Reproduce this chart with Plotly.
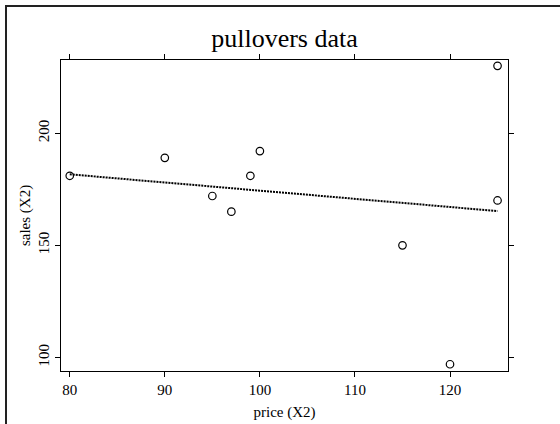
import numpy as np
import plotly.graph_objects as go

# pullovers data
price = [125, 99, 97, 115, 120, 100, 80, 90, 95, 125]
sales = [230, 181, 165, 150, 97, 192, 181, 189, 172, 170]
x_ticks = [80, 90, 100, 110, 120]
y_ticks = [100, 150, 200]

# least-squares line of sales on price
slope, intercept = np.polyfit(price, sales, 1)
fit_x = [min(price), max(price)]
fit_y = [intercept + slope * v for v in fit_x]

FONT = "Liberation Serif"

fig = go.Figure()
fig.add_trace(go.Scatter(
    x=fit_x, y=fit_y, mode="lines",
    line=dict(color="black", width=2, dash="2px,1px"),
    showlegend=False, hoverinfo="skip"))
fig.add_trace(go.Scatter(
    x=price, y=sales, mode="markers",
    marker=dict(symbol="circle-open", size=7.5, color="black", line=dict(width=1.2)),
    showlegend=False))

W, H = 560, 424
ml, mr, mt, mb = 61, 52, 60, 53
pw, ph = W - ml - mr, H - mt - mb
fx = lambda px: (px - ml) / pw
fy = lambda py: (H - mb - py) / ph

fig.update_layout(
    width=W, height=H, autosize=False,
    margin=dict(l=ml, r=mr, t=mt, b=mb, pad=0, autoexpand=False),
    paper_bgcolor="white", plot_bgcolor="white",
    font=dict(family=FONT, color="black", size=15),
    title=dict(text="pullovers data", x=0.5, xref="paper", xanchor="center",
               y=1 - 38 / H, yref="container", yanchor="middle", automargin=False,
               font=dict(family=FONT, size=26, color="black")),
    xaxis=dict(range=[79.08, 126.1], tickvals=x_ticks, ticks="outside", ticklen=5,
               tickcolor="black", showline=True, linecolor="black", linewidth=1,
               mirror="ticks", showgrid=False, zeroline=False, automargin=False,
               tickfont=dict(family=FONT, size=15),
               title=dict(text="price (X2)", standoff=9, font=dict(family=FONT, size=15))),
    yaxis=dict(range=[94.0, 232.6], tickvals=y_ticks, ticks="outside", ticklen=5,
               tickcolor="black", showline=True, linecolor="black", linewidth=1,
               mirror="ticks", showgrid=False, zeroline=False, tickangle=-90,
               automargin=False,
               tickfont=dict(family=FONT, size=15),
               title=dict(text="sales (X2)", standoff=1, font=dict(family=FONT, size=15))),
    shapes=[dict(type="path", xref="paper", yref="paper", layer="above",
                 path=f"M {fx(6)},{fy(H + 5)} L {fx(6)},{fy(6)} L {fx(W + 5)},{fy(6)}",
                 line=dict(color="#222", width=2))],
)

fig.write_html("out.html", config={"displayModeBar": False},
               post_script="document.body.style.margin='0';document.body.style.overflow='hidden';")
